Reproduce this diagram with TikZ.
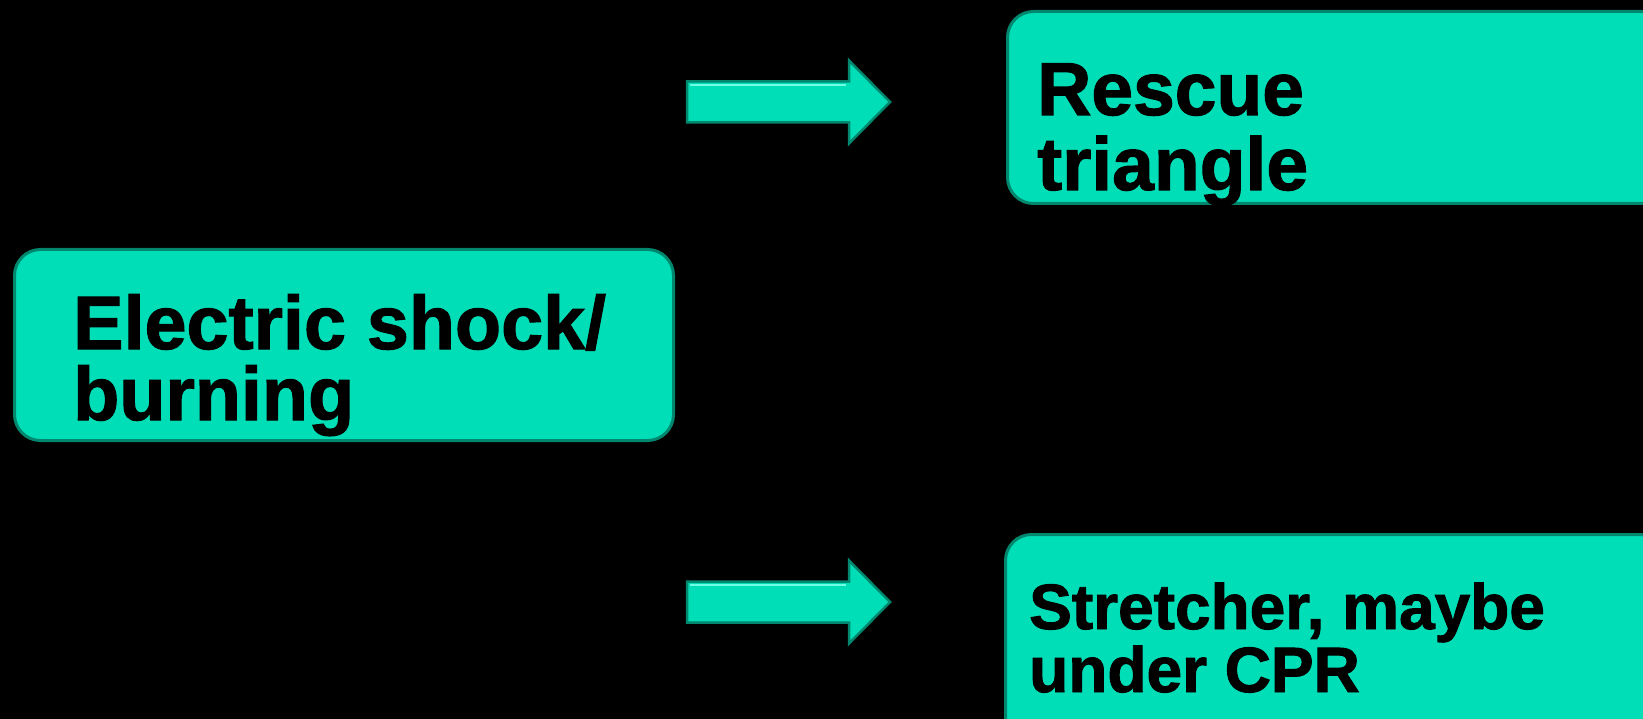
\documentclass[tikz,border=0pt]{standalone}
\usepackage{fontspec}
\setmainfont{Liberation Sans}[BoldFeatures={FakeBold=1.5}]
\usepackage{tikz}
\usetikzlibrary{positioning}
\definecolor{aqua}{RGB}{0,222,183}
\definecolor{aquadark}{RGB}{0,135,110}
\definecolor{aqualight}{RGB}{110,255,228}
\tikzset{
    aqua-box/.style = {draw=aquadark, fill=aqua, line width=3pt, rectangle, rounded corners=26pt, anchor=north west, inner sep=0pt},
    aqua-text/.style = {anchor=base west, align=left, inner sep=0pt, text=black},
    block-arrow/.style = {draw=aquadark, fill=aqua, line width=2.5pt, line join=miter},
}

\begin{document}
\begin{tikzpicture}[x=1pt, y=-1pt]
\fill[black] (0,0) rectangle (1643,719);
\useasboundingbox (0,0) rectangle (1643,719);
\clip (0,0) rectangle (1643,719);

\node [aqua-box, minimum width=659pt, minimum height=191pt] (burnbox) at (13,248) {};
\node [aqua-box, minimum width=660pt, minimum height=192pt] (rescuebox) at (1006,10) {};
\node [aqua-box, minimum width=660pt, minimum height=210pt] (stretchbox) at (1004,533) {};

% base anchor sits on the last line
\node [aqua-text, font=\bfseries\fontsize{75.5}{71}\selectfont] (burntext) at (73,420) {Electric shock/\\burning};
\node [aqua-text, font=\bfseries\fontsize{75}{75}\selectfont] (rescuetext) at (1037,190) {Rescue\\triangle};
\node [aqua-text, font=\bfseries\fontsize{64}{63}\selectfont] (stretchtext) at (1029,692) {Stretcher, maybe\\under CPR};

\foreach \name/\y in {rescue/102, stretch/602} {
    \draw [block-arrow] (687,\y-20.5) -- (849,\y-20.5) -- (849,\y-41.5) -- (890,\y)
        -- (849,\y+41.5) -- (849,\y+20.5) -- (687,\y+20.5) -- cycle;
    \draw [aqualight, line width=2pt] (690,\y-17) -- (846,\y-17);
}
\end{tikzpicture}
\end{document}
